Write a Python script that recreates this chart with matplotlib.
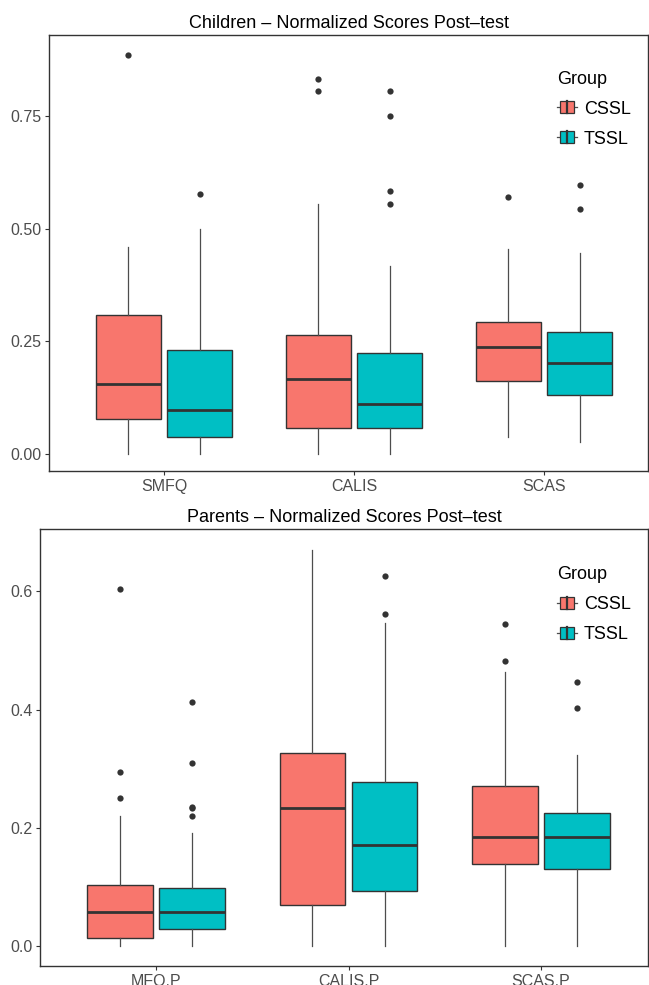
import matplotlib
matplotlib.use('Agg')
import matplotlib.pyplot as plt
from matplotlib.legend_handler import HandlerBase
from matplotlib.patches import Rectangle, Patch
from matplotlib.lines import Line2D

plt.rcParams['font.family'] = ['Liberation Sans', 'DejaVu Sans']

groups = ['CSSL', 'TSSL']
colors = ['#F8766D', '#00BFC4']

# children panel
child_cats = ['SMFQ', 'CALIS', 'SCAS']
child_low = {'CSSL': [0.0, 0.0, 0.036], 'TSSL': [0.0, 0.0, 0.026]}
child_q1 = {'CSSL': [0.077, 0.056, 0.162], 'TSSL': [0.038, 0.056, 0.131]}
child_med = {'CSSL': [0.154, 0.166, 0.236], 'TSSL': [0.096, 0.111, 0.201]}
child_q3 = {'CSSL': [0.308, 0.264, 0.293], 'TSSL': [0.231, 0.223, 0.270]}
child_high = {'CSSL': [0.460, 0.555, 0.455], 'TSSL': [0.499, 0.416, 0.446]}
child_out = {'CSSL': [[0.885], [0.833, 0.806], [0.570]],
             'TSSL': [[0.577], [0.806, 0.750, 0.583, 0.555], [0.596, 0.544]]}
child_ticks = [0.0, 0.25, 0.5, 0.75]
child_ticklabels = ['0.00', '0.25', '0.50', '0.75']

# parents panel
par_cats = ['MFQ.P', 'CALIS.P', 'SCAS.P']
par_low = {'CSSL': [0.0, 0.0, 0.0], 'TSSL': [0.0, 0.0, 0.0]}
par_q1 = {'CSSL': [0.015, 0.070, 0.140], 'TSSL': [0.029, 0.094, 0.131]}
par_med = {'CSSL': [0.059, 0.234, 0.184], 'TSSL': [0.059, 0.172, 0.184]}
par_q3 = {'CSSL': [0.103, 0.327, 0.271], 'TSSL': [0.099, 0.277, 0.225]}
par_high = {'CSSL': [0.220, 0.670, 0.464], 'TSSL': [0.192, 0.546, 0.324]}
par_out = {'CSSL': [[0.603, 0.294, 0.250], [], [0.544, 0.482]],
           'TSSL': [[0.412, 0.309, 0.236, 0.234, 0.220], [0.625, 0.562], [0.447, 0.403]]}
par_ticks = [0.0, 0.2, 0.4, 0.6]
par_ticklabels = ['0.0', '0.2', '0.4', '0.6']


class BoxKey(HandlerBase):
    # ggplot style boxplot key: whisker line, box, vertical median
    def create_artists(self, legend, orig_handle, xd, yd, w, h, fontsize, trans):
        x0, y0 = -xd, -yd
        wl = Line2D([x0, x0 + w], [y0 + h / 2, y0 + h / 2], color='#4D4D4D', lw=0.9, transform=trans)
        box = Rectangle((x0 + w * 0.15, y0), w * 0.7, h, facecolor=orig_handle.get_facecolor(),
                        edgecolor='#333333', lw=0.9, transform=trans)
        med = Line2D([x0 + w / 2, x0 + w / 2], [y0, y0 + h], color='#333333', lw=1.6, transform=trans)
        return [wl, box, med]


def panel(ax, cats, low, q1, med, q3, high, out, ticks, ticklabels, title, ylim, xlim, leg_xy):
    for gi, g in enumerate(groups):
        stats = []
        for i in range(len(cats)):
            stats.append(dict(whislo=low[g][i], q1=q1[g][i], med=med[g][i], q3=q3[g][i],
                              whishi=high[g][i], fliers=out[g][i]))
        pos = [i + (gi - 0.5) * 0.375 for i in range(len(cats))]
        ax.bxp(stats, positions=pos, widths=0.34, patch_artist=True, showcaps=False,
               boxprops=dict(facecolor=colors[gi], edgecolor='#333333', linewidth=1.0),
               whiskerprops=dict(color='#4D4D4D', linewidth=0.9),
               medianprops=dict(color='#333333', linewidth=2),
               flierprops=dict(marker='o', markerfacecolor='#333333', markeredgecolor='none',
                               markersize=4.5))
    ax.set_xlim(xlim)
    ax.set_ylim(ylim)
    ax.set_xticks(range(len(cats)))
    ax.set_xticklabels(cats)
    ax.set_yticks(ticks)
    ax.set_yticklabels(ticklabels)
    ax.tick_params(labelsize=11.5, labelcolor='#4D4D4D', color='#333333', length=3, width=0.8, pad=2.5)
    for s in ax.spines.values():
        s.set_color('#333333')
        s.set_linewidth(1)
    ax.set_title(title, fontsize=13, pad=5)
    handles = [Patch(facecolor=c, label=g) for g, c in zip(groups, colors)]
    ax.legend(handles=handles, handler_map={Patch: BoxKey()}, title='Group', loc='upper left',
              bbox_to_anchor=leg_xy, frameon=False, fontsize=13, title_fontsize=13,
              handlelength=1.1, handleheight=0.65, handletextpad=0.4, labelspacing=0.72,
              borderpad=0, borderaxespad=0, alignment='left')


fig = plt.figure(figsize=(6.49, 9.85), dpi=100)
ax1 = fig.add_axes([0.0755, 0.5218, 0.923, 0.4427])
ax2 = fig.add_axes([0.0616, 0.0193, 0.937, 0.4437])

panel(ax1, child_cats, child_low, child_q1, child_med, child_q3, child_high, child_out,
      child_ticks, child_ticklabels, 'Children – Normalized Scores Post–test',
      (-0.0385, 0.930), (-0.605, 2.547), (0.848, 0.918))
panel(ax2, par_cats, par_low, par_q1, par_med, par_q3, par_high, par_out,
      par_ticks, par_ticklabels, 'Parents – Normalized Scores Post–test',
      (-0.033, 0.705), (-0.603, 2.556), (0.85, 0.915))

fig.savefig('out.png', dpi=100)
